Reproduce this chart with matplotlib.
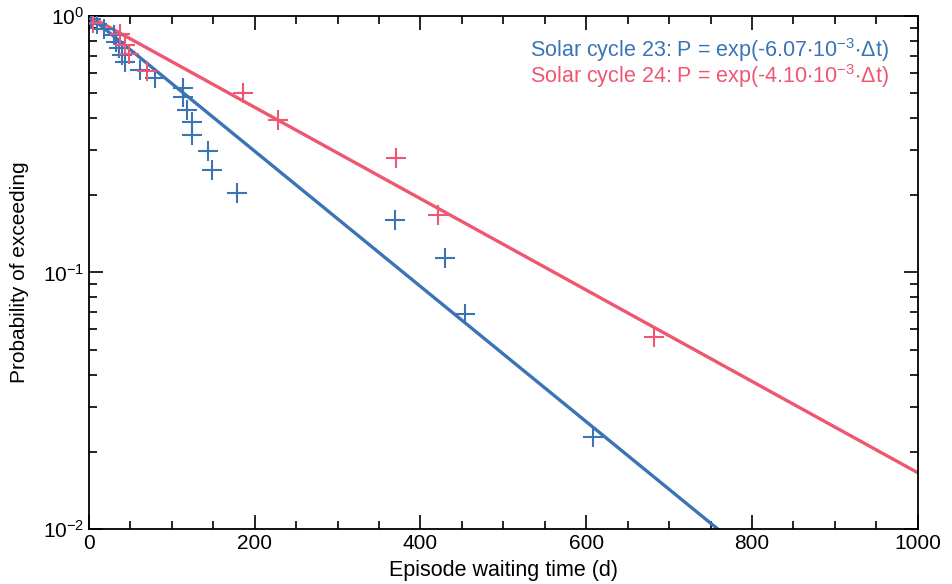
import matplotlib
matplotlib.use("Agg")
import matplotlib.pyplot as plt
import numpy as np
from matplotlib.ticker import LogLocator, MultipleLocator, FixedLocator, NullFormatter

plt.rcParams['font.family'] = ['Liberation Sans', 'DejaVu Sans']
plt.rcParams['mathtext.fontset'] = 'custom'
plt.rcParams['mathtext.rm'] = 'Liberation Sans'
plt.rcParams['mathtext.default'] = 'regular'

BLUE = '#3b74b6'
RED = '#ef5671'

# episode waiting times (d) and exceedance probabilities
cycle23_t = [3, 10, 18, 30, 33, 36, 40, 43, 62, 80, 114, 114, 118, 124, 124, 144, 149, 179, 369, 430, 454, 608]
cycle23_p = [0.977, 0.932, 0.886, 0.84, 0.795, 0.75, 0.705, 0.66, 0.614, 0.571, 0.522, 0.485, 0.43,
             0.387, 0.343, 0.298, 0.252, 0.205, 0.160, 0.114, 0.0687, 0.0229]
cycle24_t = [5, 37, 44, 48, 70, 186, 228, 370, 421, 682]
cycle24_p = [0.94, 0.85, 0.77, 0.71, 0.612, 0.503, 0.393, 0.279, 0.168, 0.056]

rate23 = 6.07e-3
rate24 = 4.10e-3

fig = plt.figure(figsize=(9.52, 5.84), dpi=100)
ax = fig.add_axes([0.0935, 0.0942, 0.8705, 0.8784])

t = np.linspace(0, 1000, 200)
ax.plot(t, np.exp(-rate23 * t), color=BLUE, lw=2.4, zorder=2)
ax.plot(t, np.exp(-rate24 * t), color=RED, lw=2.4, zorder=2)
ax.plot(cycle23_t, cycle23_p, '+', color=BLUE, ms=15, mew=1.5, zorder=3)
ax.plot(cycle24_t, cycle24_p, '+', color=RED, ms=15, mew=1.5, zorder=3)

ax.set_yscale('log')
ax.set_xlim(0, 1000)
ax.set_ylim(1e-2, 1)
ax.xaxis.set_major_locator(MultipleLocator(200))
ax.xaxis.set_minor_locator(MultipleLocator(50))
ax.yaxis.set_major_locator(FixedLocator([1e-2, 1e-1, 1]))
ax.yaxis.set_minor_locator(LogLocator(base=10, subs=np.arange(2, 10)))
ax.yaxis.set_minor_formatter(NullFormatter())
ax.set_yticklabels(['$10^{-2}$', '$10^{-1}$', '$10^{0}$'])

ax.tick_params(which='both', direction='in', top=True, right=True, width=1.2, labelsize=15)
ax.tick_params(which='major', length=10)
ax.tick_params(which='minor', length=6)
for s in ax.spines.values():
    s.set_linewidth(1.3)

ax.set_xlabel('Episode waiting time (d)', fontsize=15.5, labelpad=5)
ax.set_ylabel('Probability of exceeding', fontsize=15, labelpad=10)

ax.text(0.965, 0.934, 'Solar cycle 23: P = exp(-6.07$\\cdot$10$^{-3}$$\\cdot$Δt)', color=BLUE,
        fontsize=15.5, ha='right', va='center', transform=ax.transAxes)
ax.text(0.965, 0.882, 'Solar cycle 24: P = exp(-4.10$\\cdot$10$^{-3}$$\\cdot$Δt)', color=RED,
        fontsize=15.5, ha='right', va='center', transform=ax.transAxes)

fig.savefig('out.png', dpi=100)
